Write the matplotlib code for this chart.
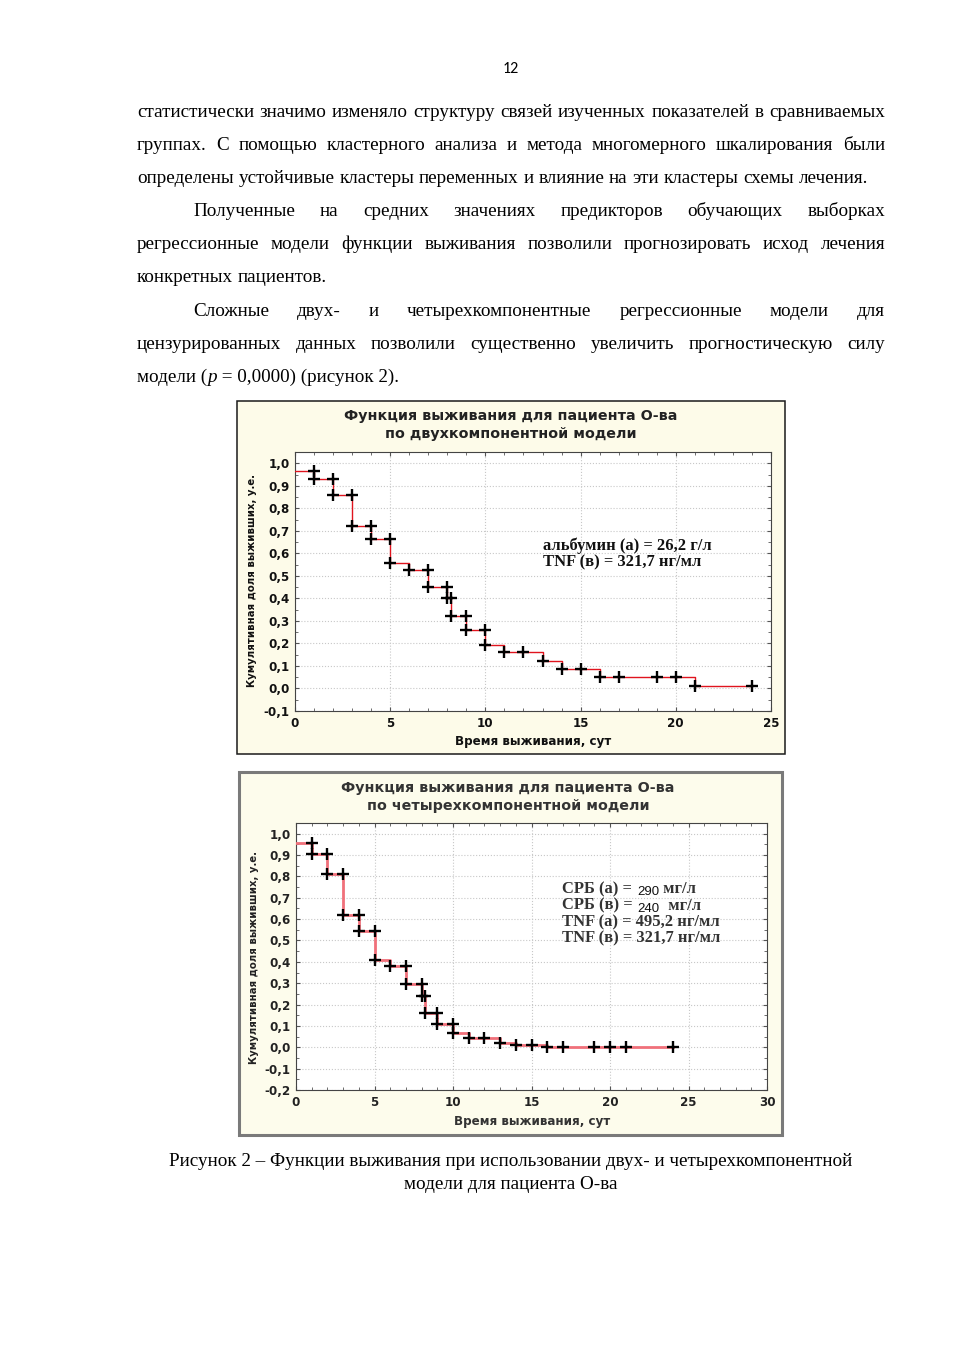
import matplotlib
matplotlib.use("Agg")
import matplotlib.pyplot as plt
from matplotlib.patches import Rectangle
from matplotlib.ticker import MultipleLocator, FuncFormatter

W, H = 954, 1350

# page text
page_no = "12"
para_lines = [
    ("статистически значимо изменяло структуру связей изученных показателей в сравниваемых", 137, True),
    ("группах. С помощью кластерного анализа и метода многомерного шкалирования были", 137, True),
    ("определены устойчивые кластеры переменных и влияние на эти кластеры схемы лечения.", 137, False),
    ("Полученные на средних значениях предикторов обучающих выборках", 193, True),
    ("регрессионные модели функции выживания позволили прогнозировать исход лечения", 137, True),
    ("конкретных пациентов.", 137, False),
    ("Сложные двух- и четырехкомпонентные регрессионные модели для", 193, True),
    ("цензурированных данных позволили существенно увеличить прогностическую силу", 137, True),
]
caption = ["Рисунок 2 – Функции выживания при использовании двух- и четырехкомпонентной",
           "модели для пациента О-ва"]

# chart 1: two-component model
t1 = [0, 1, 2, 3, 4, 5, 6, 7, 8, 8.2, 9, 10, 11, 13, 14, 16, 21, 24]
s1 = [0.965, 0.93, 0.86, 0.72, 0.665, 0.555, 0.525, 0.45, 0.40, 0.32, 0.26, 0.195,
      0.16, 0.12, 0.085, 0.05, 0.01, 0.01]
mx1 = [1, 1, 2, 2, 3, 3, 4, 4, 5, 5, 6, 7, 7, 8, 8, 8.2, 8.2, 9, 9, 10, 10,
       11, 12, 13, 14, 15, 16, 17, 19, 20, 21, 24]
my1 = [0.965, 0.93, 0.93, 0.86, 0.86, 0.72, 0.72, 0.665, 0.665, 0.555, 0.525, 0.525, 0.45,
       0.45, 0.40, 0.40, 0.32, 0.32, 0.26, 0.26, 0.195, 0.16, 0.16, 0.12, 0.085, 0.085,
       0.05, 0.05, 0.05, 0.05, 0.01, 0.01]

# chart 2: four-component model
t2 = [0, 1, 2, 3, 4, 5, 6, 7, 8, 8.2, 9, 10, 11, 13, 14, 16, 24]
s2 = [0.955, 0.905, 0.81, 0.62, 0.545, 0.41, 0.38, 0.295, 0.24, 0.16, 0.11, 0.065,
      0.045, 0.02, 0.01, 0.003, 0.003]
mx2 = [1, 1, 2, 2, 3, 3, 4, 4, 5, 5, 6, 7, 7, 8, 8, 8.2, 8.2, 9, 9, 10, 10,
       11, 12, 13, 14, 15, 16, 17, 19, 20, 21, 24]
my2 = [0.955, 0.905, 0.905, 0.81, 0.81, 0.62, 0.62, 0.545, 0.545, 0.41, 0.38, 0.38, 0.295,
       0.295, 0.24, 0.24, 0.16, 0.16, 0.11, 0.11, 0.065, 0.045, 0.045, 0.02, 0.01, 0.01,
       0.003, 0.003, 0.003, 0.003, 0.003, 0.003]

title_top = "Функция выживания для пациента О-ва"
title1 = "по двухкомпонентной модели"
title2 = "по четырехкомпонентной модели"
ylab = "Кумулятивная доля выживших, у.е."
xlab = "Время выживания, сут"
note1 = ["альбумин (а) = 26,2 г/л", "TNF (в) = 321,7 нг/мл"]
note2 = [("СРБ (а) = ", "290", " мг/л"), ("СРБ (в) = ", "240", "  мг/л"),
         ("TNF (а) = 495,2 нг/мл", "", ""), ("TNF (в) = 321,7 нг/мл", "", "")]

fig = plt.figure(figsize=(W / 100, H / 100), dpi=100)
fig.patch.set_facecolor("white")
r = fig.canvas.get_renderer()


def fx(x):
    return x / W


def fy(y):
    return 1 - y / H


serif = "Liberation Serif"
sans = "DejaVu Sans"


def fit_size(text, family, width, weight="normal"):
    probe = fig.text(0, 0, text, family=family, fontsize=10, fontweight=weight)
    w = probe.get_window_extent(r).width
    probe.remove()
    return 10 * width / w


# body font size so that the left-aligned line 3 is ~738 px wide
fs = fit_size(para_lines[2][0], serif, 738)


def words_line(words, x0, x1, y, justify):
    objs = [fig.text(0, fy(y), wd, family=serif, fontsize=fs, va="baseline", ha="left")
            for wd in words]
    widths = [o.get_window_extent(r).width for o in objs]
    if justify and len(words) > 1:
        gap = (x1 - x0 - sum(widths)) / (len(words) - 1)
    else:
        gap = fs * 0.25 * 100 / 72
    x = x0
    for o, wd in zip(objs, widths):
        o.set_x(fx(x))
        x += wd + gap


fig.text(fx(511), fy(73), page_no, family="Carlito", fontsize=11.5, ha="center", va="baseline")

for k, (line, x0, just) in enumerate(para_lines):
    words_line(line.split(), x0, 885, 117 + 33.1 * k, just)

# last line with italic p
segs = ["модели (", "p", " = 0,0000) (рисунок 2)."]
sty = ["normal", "italic", "normal"]
x = 137
for sg, st in zip(segs, sty):
    t = fig.text(fx(x), fy(382), sg, family=serif, fontsize=fs, style=st, va="baseline")
    x += t.get_window_extent(r).width

fig.text(fx(511), fy(1166), caption[0], family=serif, fontsize=fs, ha="center", va="baseline")
fig.text(fx(511), fy(1189), caption[1], family=serif, fontsize=fs, ha="center", va="baseline")

# chart frames
fig.add_artist(Rectangle((fx(237), fy(754)), (785 - 237) / W, (754 - 401) / H,
                         transform=fig.transFigure, facecolor="#fdfbe9",
                         edgecolor="#1a1a1a", lw=1.1, zorder=-1))
fig.add_artist(Rectangle((fx(239), fy(1135)), (782 - 239) / W, (1135 - 772) / H,
                         transform=fig.transFigure, facecolor="#fdfcec",
                         edgecolor="#7a7a7a", lw=2.2, zorder=-1))


def comma(v, pos):
    return f"{v:.1f}".replace(".", ",").replace("-0,0", "0,0")


def survival_ax(box, t, s, mx, my, xmax, ymin, line_col, lw, txtcol):
    l, top, rgt, bot = box
    ax = fig.add_axes([fx(l), fy(bot), (rgt - l) / W, (bot - top) / H])
    ax.set_facecolor("white")
    ax.plot(t, s, drawstyle="steps-post", color=line_col, lw=lw, zorder=3)
    ax.plot(mx, my, "+", color="black", ms=8, mew=1.7, zorder=4)
    ax.set_xlim(0, xmax)
    ax.set_ylim(ymin, 1.05)
    ax.xaxis.set_major_locator(MultipleLocator(5))
    ax.xaxis.set_minor_locator(MultipleLocator(1))
    ax.yaxis.set_major_locator(MultipleLocator(0.1))
    ax.yaxis.set_minor_locator(MultipleLocator(0.05))
    ax.yaxis.set_major_formatter(FuncFormatter(comma))
    ax.grid(True, which="major", color="#c8c8c8", ls=":", lw=0.8)
    ax.tick_params(which="both", direction="in", top=True, right=True, color="#555",
                   labelsize=8.6, labelcolor=txtcol, pad=4)
    ax.tick_params(which="major", length=3)
    ax.tick_params(which="minor", length=2)
    for lb in ax.get_xticklabels() + ax.get_yticklabels():
        lb.set_fontfamily(sans)
        lb.set_fontweight("bold")
    for sp in ax.spines.values():
        sp.set_color("#444")
        sp.set_linewidth(0.8)
    return ax


ax1 = survival_ax((295, 452, 771, 711), t1, s1, mx1, my1, 25, -0.1, "#e0141e", 1.0, "#111")
ax2 = survival_ax((296, 823, 767, 1090), t2, s2, mx2, my2, 30, -0.2, "#f0707a", 2.0, "#222")

ts = fit_size(title_top, sans, 331, "bold")
xs = fit_size(xlab, sans, 156, "bold")
ys = fit_size(ylab, sans, 210, "bold")

for yt, title, cx, col in [(416, title1, 511, "#222"), (788, title2, 508, "#333")]:
    fig.text(fx(cx), fy(yt), title_top, family=sans, fontsize=ts, fontweight="bold",
             ha="center", va="center", color=col)
    fig.text(fx(cx), fy(yt + 18), title, family=sans, fontsize=ts, fontweight="bold",
             ha="center", va="center", color=col)

fig.text(fx(252), fy(581), ylab, family=sans, fontsize=ys, fontweight="bold",
         rotation=90, ha="center", va="center", color="#111")
fig.text(fx(254), fy(957), ylab, family=sans, fontsize=ys, fontweight="bold",
         rotation=90, ha="center", va="center", color="#222")
fig.text(fx(533), fy(742), xlab, family=sans, fontsize=xs, fontweight="bold",
         ha="center", va="center", color="#111")
fig.text(fx(532), fy(1122), xlab, family=sans, fontsize=xs, fontweight="bold",
         ha="center", va="center", color="#333")

ns = fit_size(note1[0], serif, 168, "bold")
for k, ln in enumerate(note1):
    fig.text(fx(543), fy(550 + 16.5 * k), ln, family=serif, fontsize=ns,
             fontweight="bold", va="baseline", color="#111")

ns2 = fit_size(note2[2][0], serif, 157, "bold")
for k, (a, b, c) in enumerate(note2):
    y = fy(893 + 16.5 * k)
    t = fig.text(fx(562), y, a, family=serif, fontsize=ns2, fontweight="bold",
                 va="baseline", color="#333")
    x = 562 + t.get_window_extent(r).width
    if b:
        t = fig.text(fx(x + 1), fy(895 + 16.5 * k), b, family="Liberation Sans",
                     fontsize=9.5, va="baseline", color="#111")
        x += 1 + t.get_window_extent(r).width
        fig.text(fx(x), y, c, family=serif, fontsize=ns2, fontweight="bold",
                 va="baseline", color="#333")

fig.savefig("out.png", dpi=100)
